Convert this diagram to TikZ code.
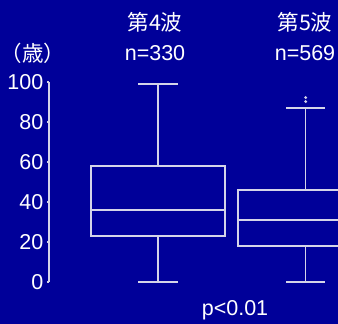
\documentclass[tikz,border=0pt]{standalone}
\usepackage{fontspec}
\setmainfont{Liberation Sans}
\newfontfamily\jpfont{Noto Sans CJK JP}
\usetikzlibrary{positioning}
\definecolor{bgblue}{HTML}{000099}
\definecolor{plotgray}{HTML}{D4D4E8}
\tikzset{
  plotline/.style={draw=plotgray, line width=1.3pt},
  label/.style={text=white, inner sep=0pt, font=\fontsize{21.5}{24}\selectfont}
}
\begin{document}
\begin{tikzpicture}[x=1pt, y=1pt]
            \useasboundingbox (0,0) rectangle (338,324);
            \fill[bgblue] (0,0) rectangle (338,324);
            \clip (0,0) rectangle (338,324);

            % Headings
            \node[label] (wave4) at (155,302) {\jpfont 第4波};
            \node[label] (n4) at (155,271) {n=330};
            \node[label] (wave5) at (305,302) {\jpfont 第5波};
            \node[label] (n5) at (305,271) {n=569};
            \node[label, anchor=west] (unit) at (0.5,271) {\jpfont （歳）};

            \begin{scope}[shift={(0,42)}, y=2pt]
            % Axis
            \draw[plotline] (49,0) -- (49,100);
            \foreach \v in {0,20,...,100} {
                \draw[plotline] (47,\v) -- (49,\v);
                \node[label, anchor=east] (tick\v) at (43.5,\v) {\v};
            }

            % Wave 4
            \draw[plotline] (91,23) rectangle (225,58);
            \draw[plotline] (91,36) -- (225,36);
            \draw[plotline] (158,58) -- (158,99);
            \draw[plotline] (158,23) -- (158,0);
            \draw[plotline] (138,99) -- (178,99);
            \draw[plotline] (138,0) -- (178,0);

            % Wave 5
            \draw[plotline] (238,18) rectangle (373,46);
            \draw[plotline] (238,31) -- (373,31);
            \draw[plotline] (305.7,46) -- (305.7,87);
            \draw[plotline] (305.7,18) -- (305.7,0);
            \draw[plotline] (286,87) -- (325,87);
            \draw[plotline] (286,0) -- (325,0);
            \fill[plotgray] (305.7,90.2) circle (1.6pt);
            \fill[plotgray] (305.7,92.2) circle (1.6pt);
            \end{scope}

            \node[label] (pval) at (235,14) {p<0.01};
        \end{tikzpicture}
\end{document}
